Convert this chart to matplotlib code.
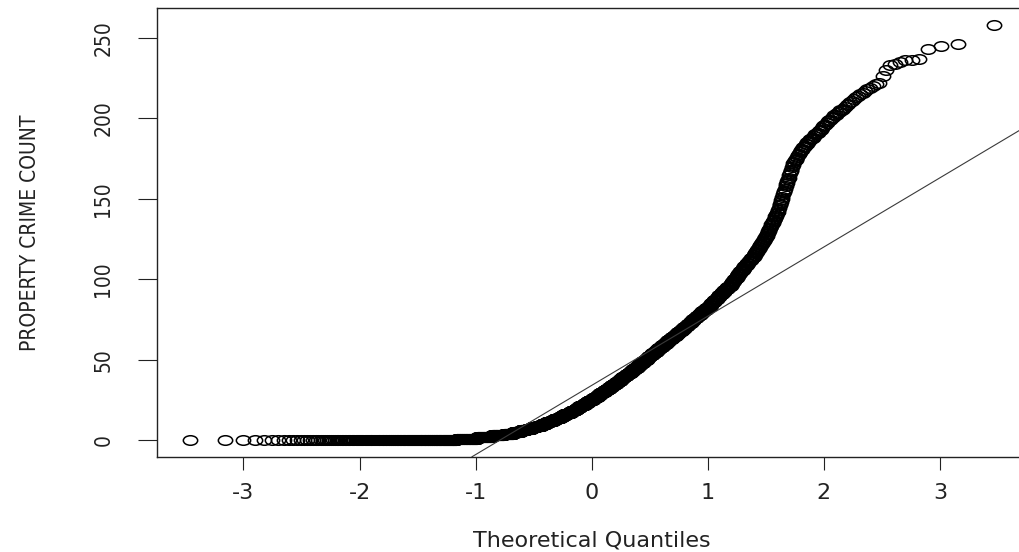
import statistics
import numpy as np
import matplotlib
matplotlib.use("Agg")
import matplotlib.pyplot as plt
from matplotlib import font_manager
from matplotlib.path import Path

# property crime count per tract -> number of tracts with that count (0..258)
crime_count = list(range(0, 259))
n_tracts = [
    230, 76, 63, 55, 47, 39, 32, 29, 29, 29,
    28, 22, 22, 22, 22, 22, 22, 20, 18, 18,
    18, 18, 18, 18, 18, 17, 15, 15, 15, 15,
    15, 15, 15, 15, 15, 14, 13, 13, 13, 13,
    13, 13, 13, 13, 13, 13, 12, 11, 11, 11,
    11, 11, 11, 11, 11, 11, 11, 11, 10, 10,
    10, 10, 10, 10, 10, 10, 10, 10, 10, 10,
    9, 8, 8, 8, 8, 8, 8, 8, 8, 8,
    8, 8, 8, 6, 6, 5, 6, 6, 6, 5,
    6, 6, 6, 5, 6, 6, 5, 4, 4, 3,
    4, 4, 3, 4, 3, 4, 4, 3, 4, 3,
    4, 4, 3, 4, 3, 2, 3, 2, 2, 3,
    2, 2, 3, 2, 2, 2, 3, 1, 2, 1,
    2, 1, 2, 1, 2, 1, 1, 2, 1, 2,
    1, 2, 1, 1, 1, 0, 1, 1, 1, 1,
    1, 1, 0, 1, 1, 1, 1, 0, 1, 1,
    1, 1, 1, 1, 0, 1, 1, 1, 1, 0,
    1, 1, 1, 1, 2, 1, 1, 1, 2, 1,
    2, 1, 2, 1, 2, 2, 1, 2, 2, 1,
    2, 2, 1, 2, 1, 1, 2, 1, 1, 2,
    1, 1, 2, 1, 1, 2, 1, 1, 1, 1,
    1, 1, 1, 1, 1, 1, 1, 1, 1, 1,
    1, 1, 1, 0, 0, 0, 1, 0, 0, 0,
    1, 0, 0, 1, 1, 1, 2, 1, 0, 0,
    0, 0, 0, 1, 0, 1, 1, 0, 0, 0,
    0, 0, 0, 0, 0, 0, 0, 0, 1,
]
x_ticks = [-3, -2, -1, 0, 1, 2, 3]
y_ticks = [0, 50, 100, 150, 200, 250]

# sorted sample and normal scores, same as qqnorm (ppoints with a = 1/2)
sample = np.repeat(crime_count, n_tracts).astype(float)
n = len(sample)
nd = statistics.NormalDist()
probs = (np.arange(1, n + 1) - 0.5) / n
theo = np.array([nd.inv_cdf(p) for p in probs])

# qqline through the quartiles
q1, q3 = np.quantile(sample, [0.25, 0.75])
x1, x3 = nd.inv_cdf(0.25), nd.inv_cdf(0.75)
slope = (q3 - q1) / (x3 - x1)

# narrow face for the vertical axis texts, if one is around
fonts = font_manager.fontManager.ttflist
if any(f.name == "Liberation Sans Narrow" for f in fonts):
    side = dict(family="Liberation Sans Narrow", stretch="normal", size=17)
elif any(f.name == "DejaVu Sans" and f.stretch == "condensed" for f in fonts):
    side = dict(family="DejaVu Sans", stretch="condensed", size=15)
else:
    side = dict(family="Liberation Sans", stretch="normal", size=14.5)

plt.rcParams["axes.unicode_minus"] = False
plt.rcParams["font.family"] = "DejaVu Sans"

fig = plt.figure(figsize=(10.19, 5.52), dpi=100)
ax = fig.add_axes([0.1544, 0.1726, 0.8525, 0.8123])

circle = Path.unit_circle()
ring = Path(circle.vertices * [1.5, 1.0], circle.codes)
ax.plot(theo, sample, linestyle="none", marker=ring, markersize=10.3,
        mfc="none", mec="black", mew=1.1)
ax.axline((x1, q1), slope=slope, color="#3a3a3a", lw=0.8)

# R style limits: data range padded by 4 %
xr = theo[-1] - theo[0]
yr = sample.max() - sample.min()
ax.set_xlim(theo[0] - 0.04 * xr, theo[-1] + 0.04 * xr)
ax.set_ylim(sample.min() - 0.04 * yr, sample.max() + 0.04 * yr)

ax.set_xticks(x_ticks)
ax.set_yticks(y_ticks)
ax.tick_params(axis="x", length=9, width=0.8, pad=10, labelsize=16,
               colors="#222222")
ax.tick_params(axis="y", length=13.7, width=0.8, pad=18, labelrotation=90,
               colors="#222222")
for lab in ax.get_yticklabels():
    lab.set_fontfamily(side["family"])
    lab.set_fontstretch(side["stretch"])
    lab.set_fontsize(side["size"])
    lab.set_va("center")

for sp in ax.spines.values():
    sp.set_linewidth(1.0)
    sp.set_color("#222222")

ax.set_xlabel("Theoretical Quantiles", fontsize=16, color="#222222", va="baseline")
ax.xaxis.set_label_coords(0.5, -0.1992)
ax.set_ylabel("PROPERTY CRIME COUNT", fontsize=side["size"], family=side["family"],
              fontstretch=side["stretch"], color="#222222", va="baseline")
ax.yaxis.set_label_coords(-0.1396, 0.5)

fig.savefig("out.png", dpi=100)
